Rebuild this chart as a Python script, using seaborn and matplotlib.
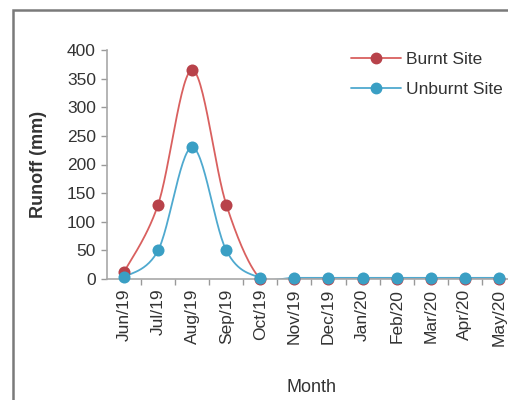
import numpy as np
import pandas as pd
import matplotlib
matplotlib.use("Agg")
import matplotlib.pyplot as plt
import seaborn as sns
from matplotlib.lines import Line2D
from matplotlib.patches import Rectangle

months = ["Jun/19", "Jul/19", "Aug/19", "Sep/19", "Oct/19", "Nov/19",
          "Dec/19", "Jan/20", "Feb/20", "Mar/20", "Apr/20", "May/20"]
burnt = [12, 130, 365, 130, 0, 0, 0, 0, 0, 0, 0, 0]
unburnt = [3, 50, 230, 50, 2, 2, 2, 2, 2, 2, 2, 2]

red_line = "#d9605f"
red_mark = "#b8424a"
blue_line = "#4fa9cf"
blue_mark = "#3a9fc4"

sns.set_theme(style="white")
plt.rcParams["font.family"] = ["Liberation Sans", "DejaVu Sans"]


def smooth(xs, ys, n=30):
    """Excel-like smoothed line (Catmull-Rom Bezier) through the points."""
    P = np.column_stack([xs, ys]).astype(float)
    out = []
    for i in range(len(P) - 1):
        p0 = P[i - 1] if i > 0 else P[i]
        p1 = P[i]
        p2 = P[i + 1]
        p3 = P[i + 2] if i + 2 < len(P) else P[i + 1]
        c1 = p1 + (p2 - p0) / 6.0
        c2 = p2 - (p3 - p1) / 6.0
        t = np.linspace(0, 1, n)[:, None]
        seg = ((1 - t) ** 3) * p1 + 3 * ((1 - t) ** 2) * t * c1 + 3 * (1 - t) * t ** 2 * c2 + t ** 3 * p2
        out.append(seg if i == 0 else seg[1:])
    return np.vstack(out)


fig = plt.figure(figsize=(5.08, 4.0), dpi=100)
ax = fig.add_axes([0.2106, 0.3025, 0.805, 0.5725])

xs = np.arange(len(months))
for vals, lc, mc, lab in [(burnt, red_line, red_mark, "Burnt Site"),
                          (unburnt, blue_line, blue_mark, "Unburnt Site")]:
    s = smooth(xs, vals)
    df = pd.DataFrame({"x": s[:, 0], "y": s[:, 1], "i": np.arange(len(s))})
    sns.lineplot(data=df, x="x", y="y", sort=False, estimator=None, color=lc,
                 linewidth=1.3, ax=ax, legend=False)
    dm = pd.DataFrame({"x": xs, "y": vals})
    sns.scatterplot(data=dm, x="x", y="y", color=mc, s=75, edgecolor=mc,
                    linewidth=0, ax=ax, legend=False, zorder=3)
for coll in ax.collections:
    coll.set_clip_on(False)

ax.set_xlim(-0.5, len(months) - 0.5)
ax.set_ylim(0, 400)
ax.set_yticks(range(0, 401, 50))
ax.set_xticks(xs)
ax.set_xticklabels(months, rotation=90, fontsize=12.5, color="#333333")
ax.tick_params(axis="y", labelsize=12.5, labelcolor="#333333", length=4,
               color="#999999", width=1, left=True, direction="out", pad=4)
ax.tick_params(axis="x", which="major", length=0, pad=7)
ax.set_xticks(np.arange(0.5, len(months) - 0.5, 1), minor=True)
ax.tick_params(axis="x", which="minor", length=4, color="#999999", width=1,
               bottom=True, direction="out")

for side in ["top", "right"]:
    ax.spines[side].set_visible(False)
for side in ["left", "bottom"]:
    ax.spines[side].set_color("#a8a8a8")
    ax.spines[side].set_linewidth(1.2)

ax.set_ylabel("Runoff (mm)", fontsize=13, fontweight="bold", color="#333333",
              labelpad=14)
ax.set_xlabel("Month", fontsize=13, color="#333333", labelpad=24)

handles = [Line2D([0], [0], color=red_line, lw=1.3, marker="o", markersize=7.5,
                  markerfacecolor=red_mark, markeredgecolor=red_mark),
           Line2D([0], [0], color=blue_line, lw=1.3, marker="o", markersize=7.5,
                  markerfacecolor=blue_mark, markeredgecolor=blue_mark)]
fig.legend(handles, ["Burnt Site", "Unburnt Site"], loc="upper left",
           bbox_to_anchor=(0.66, 0.91), frameon=False, fontsize=12.5,
           handlelength=2.9, handletextpad=0.3, labelspacing=0.85,
           labelcolor="#333333")

fig.patches.append(Rectangle((13 / 508, -0.1), 1.2, 1 - 10 / 400 + 0.1,
                             transform=fig.transFigure, fill=False,
                             edgecolor="#7a7a7a", linewidth=1.8))

fig.savefig("out.png", dpi=100)
